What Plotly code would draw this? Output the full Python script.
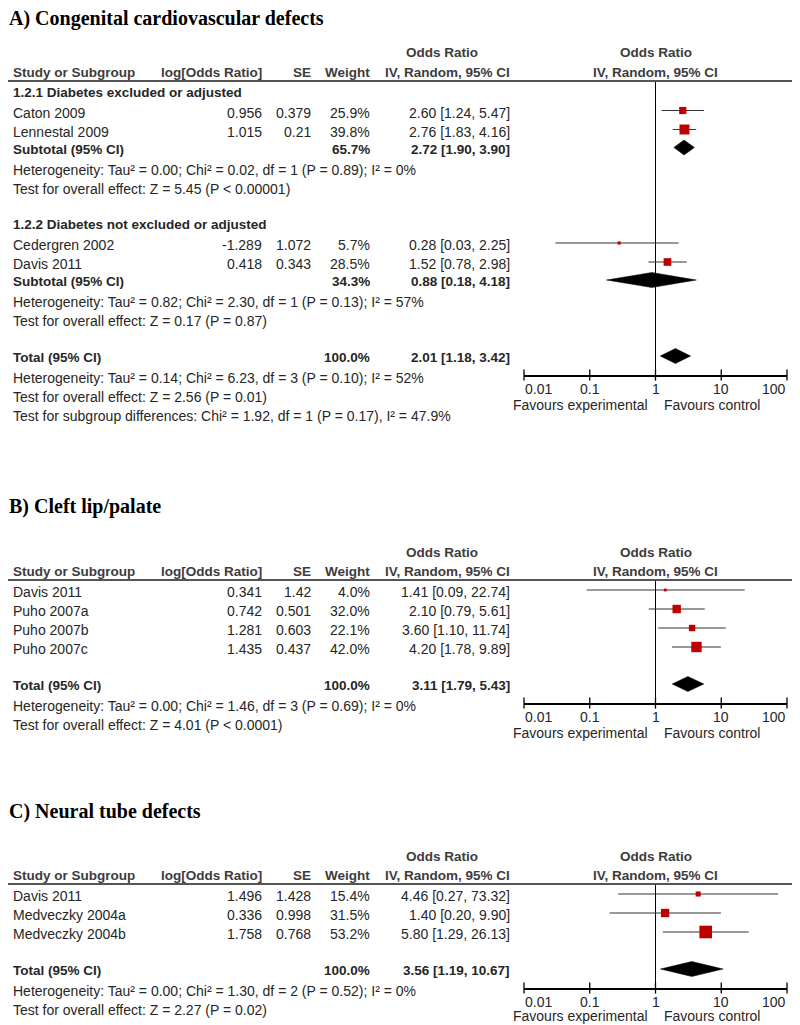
import math
import plotly.graph_objects as go

# The page adds an 8px body margin; work in page pixels and convert.
PAGE_W, PAGE_H = 800, 1025
OX, OY = 8, 8
FW, FH = PAGE_W - OX, PAGE_H - OY

# ---------------- data ----------------
# Panel A
A_title = "A) Congenital cardiovascular defects"
A_subgroups = ["1.2.1 Diabetes excluded or adjusted",
               "1.2.2 Diabetes not excluded or adjusted"]
A_study = ["Caton 2009", "Lennestal 2009", "Cedergren 2002", "Davis 2011"]
A_group = [0, 0, 1, 1]
A_log_or = [0.956, 1.015, -1.289, 0.418]
A_se = [0.379, 0.21, 1.072, 0.343]
A_weight = [25.9, 39.8, 5.7, 28.5]
A_or = [2.60, 2.76, 0.28, 1.52]
A_low = [1.24, 1.83, 0.03, 0.78]
A_high = [5.47, 4.16, 2.25, 2.98]
A_sub_weight = [65.7, 34.3]
A_sub_or = [2.72, 0.88]
A_sub_low = [1.90, 0.18]
A_sub_high = [3.90, 4.18]
A_sub_het = ["Heterogeneity: Tau² = 0.00; Chi² = 0.02, df = 1 (P = 0.89); I² = 0%",
             "Heterogeneity: Tau² = 0.82; Chi² = 2.30, df = 1 (P = 0.13); I² = 57%"]
A_sub_test = ["Test for overall effect: Z = 5.45 (P < 0.00001)",
              "Test for overall effect: Z = 0.17 (P = 0.87)"]
A_total_weight = 100.0
A_total_or = 2.01
A_total_low = 1.18
A_total_high = 3.42
A_total_notes = ["Heterogeneity: Tau² = 0.14; Chi² = 6.23, df = 3 (P = 0.10); I² = 52%",
                 "Test for overall effect: Z = 2.56 (P = 0.01)",
                 "Test for subgroup differences: Chi² = 1.92, df = 1 (P = 0.17), I² = 47.9%"]

# Panel B
B_title = "B) Cleft lip/palate"
B_study = ["Davis 2011", "Puho 2007a", "Puho 2007b", "Puho 2007c"]
B_log_or = [0.341, 0.742, 1.281, 1.435]
B_se = [1.42, 0.501, 0.603, 0.437]
B_weight = [4.0, 32.0, 22.1, 42.0]
B_or = [1.41, 2.10, 3.60, 4.20]
B_low = [0.09, 0.79, 1.10, 1.78]
B_high = [22.74, 5.61, 11.74, 9.89]
B_total_weight = 100.0
B_total_or = 3.11
B_total_low = 1.79
B_total_high = 5.43
B_total_notes = ["Heterogeneity: Tau² = 0.00; Chi² = 1.46, df = 3 (P = 0.69); I² = 0%",
                 "Test for overall effect: Z = 4.01 (P < 0.0001)"]

# Panel C
C_title = "C) Neural tube defects"
C_study = ["Davis 2011", "Medveczky 2004a", "Medveczky 2004b"]
C_log_or = [1.496, 0.336, 1.758]
C_se = [1.428, 0.998, 0.768]
C_weight = [15.4, 31.5, 53.2]
C_or = [4.46, 1.40, 5.80]
C_low = [0.27, 0.20, 1.29]
C_high = [73.32, 9.90, 26.13]
C_total_weight = 100.0
C_total_or = 3.56
C_total_low = 1.19
C_total_high = 10.67
C_total_notes = ["Heterogeneity: Tau² = 0.00; Chi² = 1.30, df = 2 (P = 0.52); I² = 0%",
                 "Test for overall effect: Z = 2.27 (P = 0.02)"]

# Axis / header texts
tick_vals = [0.01, 0.1, 1, 10, 100]
tick_text = ["0.01", "0.1", "1", "10", "100"]
favours_left = "Favours experimental"
favours_right = "Favours control"
col_headers = ["Study or Subgroup", "log[Odds Ratio]", "SE", "Weight", "IV, Random, 95% CI"]
or_header = "Odds Ratio"

# ---------------- style ----------------
SANS = "Liberation Sans, Arial, sans-serif"
SERIF = "Liberation Serif, Times New Roman, serif"
TXT = "#262626"
HDR = "#3c3c3c"
RED = "#c00000"
LINE = "#333333"
COL_NAME, COL_LOG, COL_SE, COL_W, COL_CI, COL_HDR = 12, 263, 312, 371, 511, 442
PLOT_L, PLOT_R = 524, 787
CENTER = (PLOT_L + PLOT_R) / 2


def px(x):
    return (x - OX) / FW


def py(y):
    return 1 - (y - OY) / FH


fig = go.Figure()
ann = []
shapes = []
layout_axes = {}


def text(x, y, s, anchor="left", bold=False, size=None, family=SANS, color=TXT, xref=None):
    ann.append(dict(x=px(x) if xref is None else x, y=py(y),
                    xref="paper" if xref is None else xref, yref="paper",
                    text=f"<b>{s}</b>" if bold else s, showarrow=False,
                    xanchor=anchor, yanchor="middle", borderpad=0,
                    font=dict(family=family, size=size or (13.5 if bold else 14), color=color)))


def sq_size(w):
    return 2 + 0.2 * w


def panel(n, L, title, title_y, studies, sections, total, total_notes):
    xa, ya = f"x{n}", f"y{n}"
    # title & headers
    text(OX, title_y, title, bold=True, size=20, family=SERIF, color="#000000")
    text(COL_HDR, L - 28, or_header, "center", True, color=HDR)
    text(CENTER, L - 28, or_header, "center", True, color=HDR)
    text(COL_NAME, L - 8.5, col_headers[0], bold=True, color=HDR)
    text(COL_LOG, L - 8.5, col_headers[1], "right", True, color=HDR)
    text(COL_SE, L - 8.5, col_headers[2], "right", True, color=HDR)
    text(COL_W, L - 8.5, col_headers[3], "right", True, color=HDR)
    text(COL_CI, L - 8.5, col_headers[4], "right", True, color=HDR)
    text(CENTER, L - 8.5, col_headers[4], "center", True, color=HDR)
    shapes.append(dict(type="line", xref="paper", yref="paper", x0=0, x1=1,
                       y0=py(L), y1=py(L), line=dict(color="#555555", width=2)))

    names, logs, ses, ws, ors, lows, highs = studies
    wx, wy, sx, sy, ss = [], [], [], [], []
    diamonds = []
    prev_end = None
    for k, sec in enumerate(sections):
        if sec.get("label"):
            lab = L + 11 if prev_end is None else prev_end + 36
            text(COL_NAME, lab, sec["label"], bold=True)
            m0 = lab + 18.5
        else:
            m0 = L + 10
        last = m0
        for j, i in enumerate(sec["idx"]):
            m = m0 + 19 * j
            last = m
            t = m + 2
            text(COL_NAME, t, names[i])
            text(COL_LOG, t, str(logs[i]), "right")
            text(COL_SE, t, str(ses[i]), "right")
            text(COL_W, t, f"{ws[i]:.1f}%", "right")
            text(COL_CI, t, f"{ors[i]:.2f} [{lows[i]:.2f}, {highs[i]:.2f}]", "right")
            wx += [lows[i], highs[i], None]
            wy += [m, m, None]
            sx.append(ors[i]); sy.append(m); ss.append(sq_size(ws[i]))
        prev_end = last
        if sec.get("subtotal"):
            w, o, lo, hi = sec["subtotal"]
            sub = last + 18
            t = sub + 1.5
            text(COL_NAME, t, "Subtotal (95% CI)", bold=True)
            text(COL_W, t, f"{w:.1f}%", "right", True)
            text(COL_CI, t, f"{o:.2f} [{lo:.2f}, {hi:.2f}]", "right", True)
            diamonds.append((lo, o, hi, sub))
            text(COL_NAME, sub + 22, sec["notes"][0])
            text(COL_NAME, sub + 41, sec["notes"][1])
            prev_end = sub + 41
    # total
    w, o, lo, hi = total
    tot = prev_end + (35 if sections[-1].get("subtotal") else 37)
    t = tot + 1.5
    text(COL_NAME, t, "Total (95% CI)", bold=True)
    text(COL_W, t, f"{w:.1f}%", "right", True)
    text(COL_CI, t, f"{o:.2f} [{lo:.2f}, {hi:.2f}]", "right", True)
    diamonds.append((lo, o, hi, tot))
    yy = t + 20
    for note in total_notes:
        text(COL_NAME, yy, note)
        yy += 19
    axis_y = tot + 19

    # marks on this panel's own log axis
    fig.add_trace(go.Scatter(x=[1, 1], y=[L, axis_y], mode="lines", xaxis=xa, yaxis=ya,
                             line=dict(color="#000000", width=1), hoverinfo="skip",
                             showlegend=False, cliponaxis=False))
    fig.add_trace(go.Scatter(x=wx, y=wy, mode="lines", xaxis=xa, yaxis=ya,
                             line=dict(color=LINE, width=1), hoverinfo="skip",
                             showlegend=False, cliponaxis=False))
    fig.add_trace(go.Scatter(x=sx, y=sy, mode="markers", xaxis=xa, yaxis=ya,
                             marker=dict(symbol="square", color=RED, size=ss, opacity=1,
                                         line=dict(width=0)),
                             showlegend=False, cliponaxis=False))
    for lo, o, hi, yc in diamonds:
        fig.add_trace(go.Scatter(x=[lo, o, hi, o, lo], y=[yc, yc - 7.5, yc, yc + 7.5, yc],
                                 mode="lines", fill="toself", fillcolor="#000000",
                                 line=dict(color="#000000", width=0.5), xaxis=xa, yaxis=ya,
                                 hoverinfo="skip", showlegend=False))
    # tick marks crossing the axis line
    fig.add_trace(go.Scatter(x=tick_vals, y=[axis_y] * len(tick_vals), mode="markers",
                             xaxis=xa, yaxis=ya, cliponaxis=False, hoverinfo="skip",
                             showlegend=False,
                             marker=dict(symbol="line-ns", size=8,
                                         line=dict(width=1.3, color="#000000"))))
    # tick labels (first left-aligned, last right-aligned, as in RevMan)
    for k, (v, lab) in enumerate(zip(tick_vals, tick_text)):
        anchor = "left" if k == 0 else ("right" if k == len(tick_vals) - 1 else "center")
        text(math.log10(v), axis_y + 14, lab, anchor, xref=xa)
    # favours labels
    fav_y = min(axis_y + 30, PAGE_H - 9)
    text(CENTER - 7, fav_y, favours_left, "right", color=TXT)
    text(CENTER + 7, fav_y, favours_right, "left", color=TXT)

    key = "" if n == 1 else str(n)
    layout_axes[f"xaxis{key}"] = dict(
        type="log", range=[-2, 2], domain=[px(PLOT_L), px(PLOT_R)],
        anchor=ya, automargin=False,
        showgrid=False, zeroline=False, showline=True,
        linecolor="#000000", linewidth=1.5,
        ticks="", showticklabels=False, fixedrange=True)
    layout_axes[f"yaxis{key}"] = dict(
        range=[axis_y, L - 1], domain=[py(axis_y), py(L - 1)], anchor=xa,
        visible=False, showgrid=False, zeroline=False, automargin=False, fixedrange=True)


A_sections = [
    dict(label=A_subgroups[0], idx=[i for i, g in enumerate(A_group) if g == 0],
         subtotal=(A_sub_weight[0], A_sub_or[0], A_sub_low[0], A_sub_high[0]),
         notes=[A_sub_het[0], A_sub_test[0]]),
    dict(label=A_subgroups[1], idx=[i for i, g in enumerate(A_group) if g == 1],
         subtotal=(A_sub_weight[1], A_sub_or[1], A_sub_low[1], A_sub_high[1]),
         notes=[A_sub_het[1], A_sub_test[1]]),
]
panel(2, 81, A_title, 19, (A_study, A_log_or, A_se, A_weight, A_or, A_low, A_high),
      A_sections, (A_total_weight, A_total_or, A_total_low, A_total_high), A_total_notes)

panel(3, 580, B_title, 506, (B_study, B_log_or, B_se, B_weight, B_or, B_low, B_high),
      [dict(idx=list(range(len(B_study))))],
      (B_total_weight, B_total_or, B_total_low, B_total_high), B_total_notes)

panel(4, 884, C_title, 811, (C_study, C_log_or, C_se, C_weight, C_or, C_low, C_high),
      [dict(idx=list(range(len(C_study))))],
      (C_total_weight, C_total_or, C_total_low, C_total_high), C_total_notes)

fig.update_layout(
    width=FW, height=FH,
    margin=dict(l=0, r=0, t=0, b=0, pad=0, autoexpand=False),
    paper_bgcolor="#ffffff", plot_bgcolor="rgba(0,0,0,0)",
    showlegend=False,
    annotations=ann,
    shapes=shapes,
    **layout_axes,
)

fig.write_html("out.html")
